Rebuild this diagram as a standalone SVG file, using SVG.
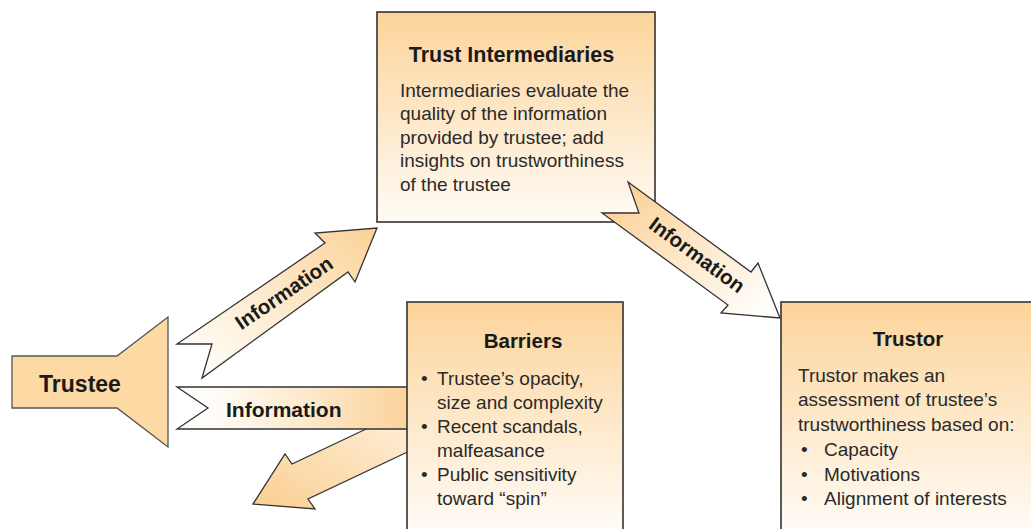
<svg xmlns="http://www.w3.org/2000/svg" width="1031" height="529" viewBox="0 0 1031 529">
<style>
.box{stroke:#333;stroke-width:1.6}
.arrow{stroke:#333;stroke-width:1.3;stroke-linejoin:miter}
.title{font-family:"Liberation Sans",Arial,sans-serif;font-weight:bold;fill:#1a1a1a;text-anchor:middle}
.body{font-family:"Liberation Sans",Arial,sans-serif;font-size:19px;fill:#2a2a2a}
.lbl{font-family:"Liberation Sans",Arial,sans-serif;font-weight:bold;fill:#1a1a1a}
</style>
<defs>
<linearGradient id="boxGrad" x1="0" y1="0" x2="0" y2="1">
<stop offset="0" stop-color="#fcd49a"/>
<stop offset="1" stop-color="#fffbf5"/>
</linearGradient>
<linearGradient id="boxGradTall" gradientUnits="userSpaceOnUse" x1="0" y1="302" x2="0" y2="529">
<stop offset="0" stop-color="#fcd49a"/>
<stop offset="1" stop-color="#fffbf5"/>
</linearGradient>
<linearGradient id="upGrad" x1="0" y1="1" x2="1" y2="0">
<stop offset="0.1" stop-color="#fffdf9"/>
<stop offset="1" stop-color="#fbd298"/>
</linearGradient>
<linearGradient id="midGrad" x1="0" y1="0" x2="1" y2="0">
<stop offset="0.15" stop-color="#fffdf9"/>
<stop offset="1" stop-color="#fbd298"/>
</linearGradient>
<linearGradient id="lowGrad" x1="0" y1="1" x2="1" y2="0">
<stop offset="0.1" stop-color="#fbd298"/>
<stop offset="1" stop-color="#fff4e4"/>
</linearGradient>
<linearGradient id="rightGrad" x1="0" y1="0" x2="1" y2="1">
<stop offset="0.1" stop-color="#fbd298"/>
<stop offset="0.9" stop-color="#fffdf9"/>
</linearGradient>
</defs>
<rect width="1031" height="529" fill="#ffffff"/>

<g id="connectors">
<g id="arrow-barrier-back">
<polygon class="arrow" fill="url(#lowGrad)" points="435,439 308,499 315,509 253,504 285,454 292,464 419,404"/>
</g>
<g id="arrow-trustee-barriers">
<polygon class="arrow" fill="url(#midGrad)" points="177,387 208,408 177,429 412,429 412,387"/>
<text class="lbl" x="226" y="417" font-size="21">Information</text>
</g>
<g id="arrow-trustee-intermediaries">
<polygon class="arrow" fill="url(#upGrad)" points="177,344 212,344 202,378 348,272 355,282 377,228 315,233 325,243"/>
<text class="lbl" font-size="20.5" text-anchor="middle" transform="translate(284,293) rotate(-34.3)" y="7">Information</text>
</g>
</g>

<g id="node-trustee">
<polygon fill="#fdd9a4" stroke="#555" stroke-width="1.3" points="12,356 117,356 168,317 168,447 117,408 12,408"/>
<text class="title" x="80" y="392" font-size="23">Trustee</text>
</g>

<g id="node-intermediaries">
<rect class="box" x="377" y="12" width="278" height="210" fill="url(#boxGrad)"/>
<text class="title" x="511.5" y="62" font-size="21.5">Trust Intermediaries</text>
<text class="body" font-size="18.5" x="400" y="97">Intermediaries evaluate the</text>
<text class="body" font-size="18.5" x="400" y="120">quality of the information</text>
<text class="body" font-size="18.5" x="400" y="144">provided by trustee; add</text>
<text class="body" font-size="18.5" x="400" y="167">insights on trustworthiness</text>
<text class="body" font-size="18.5" x="400" y="191">of the trustee</text>
</g>

<g id="node-barriers">
<rect class="box" x="407" y="302" width="216" height="240" fill="url(#boxGradTall)"/>
<text class="title" x="523" y="348" font-size="20.5">Barriers</text>
<text class="body" x="421" y="385">•</text>
<text class="body" x="437" y="385">Trustee’s opacity,</text>
<text class="body" x="437" y="409">size and complexity</text>
<text class="body" x="421" y="433">•</text>
<text class="body" x="437" y="433">Recent scandals,</text>
<text class="body" x="437" y="457">malfeasance</text>
<text class="body" x="421" y="481">•</text>
<text class="body" x="437" y="481">Public sensitivity</text>
<text class="body" x="437" y="505">toward “spin”</text>
</g>

<g id="arrow-intermediaries-trustor">
<polygon class="arrow" fill="url(#rightGrad)" points="628,182 639,213 602,213 728,305 721,313 780,318 758,263 751,272"/>
<text class="lbl" font-size="20.5" text-anchor="middle" transform="translate(697,255) rotate(36.25)" y="7">Information</text>
</g>

<g id="node-trustor">
<rect class="box" x="781" y="302" width="260" height="240" fill="url(#boxGradTall)"/>
<text class="title" x="908" y="346" font-size="20.5">Trustor</text>
<text class="body" x="798" y="382">Trustor makes an</text>
<text class="body" x="798" y="406">assessment of trustee’s</text>
<text class="body" x="798" y="431">trustworthiness based on:</text>
<text class="body" x="801" y="456">•</text>
<text class="body" x="824" y="456">Capacity</text>
<text class="body" x="801" y="481">•</text>
<text class="body" x="824" y="481">Motivations</text>
<text class="body" x="801" y="505">•</text>
<text class="body" x="824" y="505">Alignment of interests</text>
</g>
</svg>
